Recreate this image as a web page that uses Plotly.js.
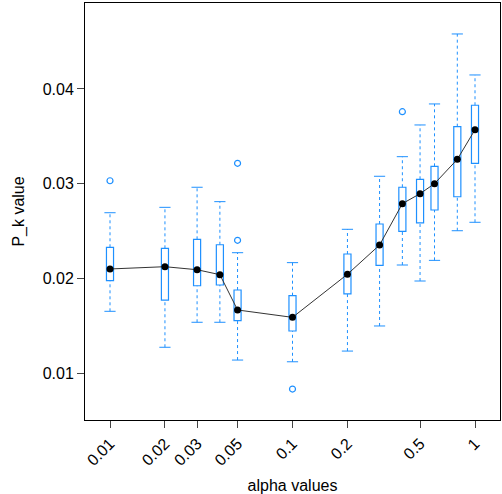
<!DOCTYPE html><html><head><script src="https://cdn.plot.ly/plotly-3.0.1.min.js"></script></head><body style="margin:0"><div id="c" style="width:502px;height:494px"></div><script>
const alpha=[0.01,0.02,0.03,0.04,0.05,0.1,0.2,0.3,0.4,0.5,0.6,0.8,1];
const lowW=[0.01652,0.01272,0.01536,0.01536,0.01137,0.01119,0.01232,0.01497,0.02141,0.01972,0.02190,0.02503,0.02592];
const q1=[0.01975,0.01771,0.01922,0.01930,0.01553,0.01444,0.01835,0.02138,0.02497,0.02585,0.02722,0.02862,0.03215];
const med=[0.02099,0.02123,0.02091,0.02039,0.01666,0.01588,0.02043,0.02352,0.02789,0.02894,0.03000,0.03257,0.03570];
const q3=[0.02328,0.02317,0.02412,0.02355,0.01877,0.01817,0.02257,0.02574,0.02962,0.03046,0.03183,0.03602,0.03828];
const upW=[0.02693,0.02750,0.02962,0.02810,0.02271,0.02166,0.02518,0.03078,0.03285,0.03620,0.03842,0.04581,0.04148];
const outX=[0.01,0.05,0.05,0.1,0.4];
const outY=[0.03031,0.03215,0.02402,0.00831,0.03760];
const tickVals=[0.01,0.02,0.03,0.05,0.1,0.2,0.5,1];
const tickText=['0.01','0.02','0.03','0.05','0.1','0.2','0.5','1'];
const blue='#1e90ff';
const wx=[],wy=[];
alpha.forEach((a,i)=>{wx.push(a,a,null,a,a,null);wy.push(lowW[i],q1[i],null,q3[i],upW[i],null);});
const traces=[
{type:'scatter',mode:'lines',x:wx,y:wy,line:{color:blue,dash:'3px,3px',width:1},hoverinfo:'skip'},
{type:'scatter',mode:'markers',x:alpha.concat(alpha),y:lowW.concat(upW),marker:{symbol:'line-ew',size:8,line:{color:blue,width:1}}},
{type:'box',x:alpha,q1:q1,median:med,q3:q3,lowerfence:q1,upperfence:q3,fillcolor:'white',line:{color:blue,width:1.2},width:alpha.map(a=>a*0.12),boxpoints:false},
{type:'scatter',mode:'markers',x:outX,y:outY,marker:{symbol:'circle-open',size:6,color:blue,line:{width:1.2}}},
{type:'scatter',mode:'lines+markers',x:alpha,y:med,line:{color:'#333',width:1},marker:{color:'black',size:7}}
];
const layout={width:502,height:494,showlegend:false,margin:{l:85,r:2,t:3,b:74},plot_bgcolor:'white',
font:{family:'Liberation Sans, Arial',size:16,color:'black'},
xaxis:{type:'log',range:[-2.137,0.137],tickvals:tickVals,ticktext:tickText,tickangle:-45,ticks:'outside',ticklen:7,showgrid:false,zeroline:false,showline:true,mirror:true,linecolor:'black',linewidth:1,title:{text:'alpha values',font:{size:16},standoff:18}},
yaxis:{range:[0.00504,0.04908],tickvals:[0.01,0.02,0.03,0.04],ticktext:['0.01','0.02','0.03','0.04'],ticks:'outside',ticklen:7,showgrid:false,zeroline:false,showline:true,mirror:true,linecolor:'black',linewidth:1,title:{text:'P_k value',font:{size:16},standoff:14}}};
Plotly.newPlot('c',traces,layout,{displayModeBar:false});
</script></body></html>
